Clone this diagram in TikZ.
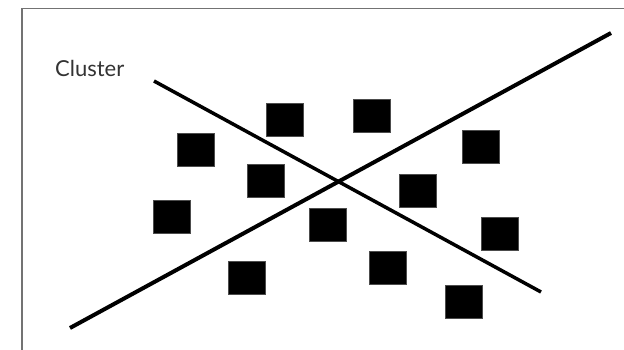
\documentclass[tikz,border=0pt]{standalone}
\usepackage{fontspec}
\setsansfont{Lato}
\usetikzlibrary{positioning}
\tikzset{
  frame line/.style={line width=1.5pt, black!55},
  split line/.style={line width=4pt},
  thin split/.style={line width=3.5pt},
  item/.style={rectangle, fill=black, draw=black!70, line width=0.5pt,
    minimum width=37pt, minimum height=33pt, inner sep=0pt},
}

\begin{document}
\begin{tikzpicture}[x=1pt, y=-1pt]

  % Canvas
  \useasboundingbox (0,0) rectangle (624,350);

  % Frame (top and left only)
  \draw[frame line] (22,350) -- (22,8.5) -- (624,8.5);

  % Label
  \node[font=\sffamily\fontsize{22}{25}\selectfont, text=black!80, anchor=base west,
    inner sep=0pt] (cluster) at (55,77) {Cluster};

  % Data points
  \node[item] (p1)  at (196,150) {};
  \node[item] (p2)  at (285,120) {};
  \node[item] (p3)  at (372,116) {};
  \node[item] (p4)  at (481,147) {};
  \node[item] (p5)  at (266,181) {};
  \node[item] (p6)  at (418,191) {};
  \node[item] (p7)  at (172,217) {};
  \node[item] (p8)  at (328,225) {};
  \node[item] (p9)  at (500,234) {};
  \node[item] (p10) at (247,278) {};
  \node[item] (p11) at (388,268) {};
  \node[item] (p12) at (464,302) {};

  % Separating lines
  \coordinate (a1) at (154,81);
  \coordinate (a2) at (541,292);
  \coordinate (b1) at (70,328);
  \coordinate (b2) at (611,33);
  \draw[thin split] (a1) -- (a2);
  \draw[split line] (b1) -- (b2);

\end{tikzpicture}
\end{document}
